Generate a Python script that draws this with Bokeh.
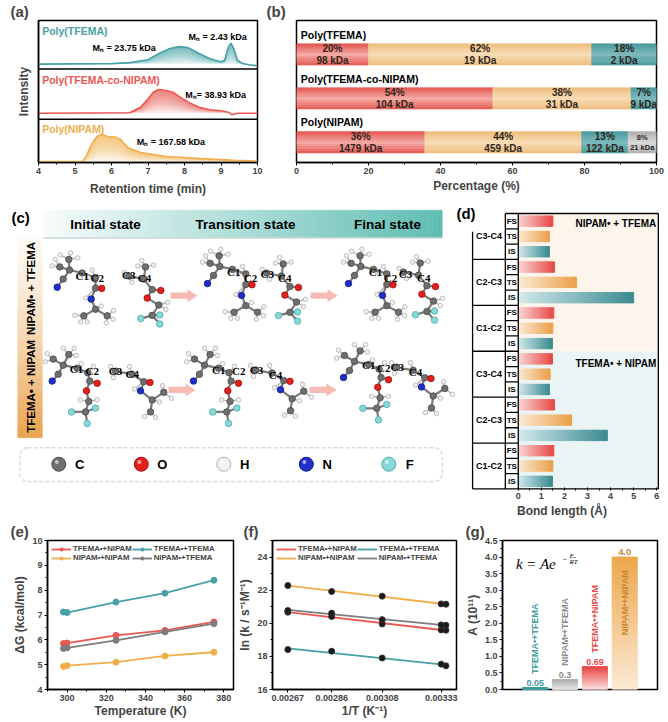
import numpy as np
from bokeh.plotting import figure
from bokeh.layouts import row, column
from bokeh.models import Range1d, Label, Span, FixedTicker, NumeralTickFormatter, Legend, LegendItem, BoxAnnotation
from bokeh.core.properties import value
from bokeh.embed import file_html
from bokeh.resources import INLINE

FONT = "Liberation Sans"
SERIF = "Liberation Serif"
TEAL = "#48a1a6"
RED = "#eb5751"
ORANGE = "#f0ae4c"
GRAY = "#7d7d7d"

# ---------------- (a) GPC traces: retention time (min) / relative intensity in each strip
rt_tfema = [4.0, 6.0, 6.5, 7.0, 7.3, 7.6, 7.85, 8.1, 8.4, 8.7, 9.0, 9.1, 9.2, 9.27, 9.35, 9.45, 9.6, 9.8, 10.0]
int_tfema = [0.10, 0.11, 0.13, 0.19, 0.32, 0.42, 0.46, 0.44, 0.32, 0.21, 0.15, 0.18, 0.45, 0.53, 0.42, 0.18, 0.11, 0.08, 0.06]
rt_co = [4.0, 6.5, 6.8, 7.0, 7.15, 7.3, 7.5, 7.7, 7.9, 8.1, 8.4, 8.7, 9.0, 9.2, 9.3, 9.45, 10.0]
int_co = [0.12, 0.13, 0.24, 0.40, 0.54, 0.59, 0.57, 0.53, 0.43, 0.34, 0.24, 0.19, 0.17, 0.14, 0.09, 0.12, 0.12]
rt_nipam = [4.0, 5.2, 5.3, 5.45, 5.6, 5.72, 5.9, 6.1, 6.25, 6.45, 6.8, 7.5, 8.45, 9.36, 10.0]
int_nipam = [0.02, 0.02, 0.13, 0.41, 0.60, 0.65, 0.60, 0.59, 0.53, 0.34, 0.23, 0.14, 0.09, 0.05, 0.03]
a_names = ["Poly(NIPAM)", "Poly(TFEMA-co-NIPAM)", "Poly(TFEMA)"]
a_mn = [["Mₙ = 167.58 kDa"], ["Mₙ= 38.93 kDa"], ["Mₙ = 23.75 kDa", "Mₙ = 2.43 kDa"]]
a_mn_x = [[6.69], [8.02], [5.48, 8.11]]
a_mn_y = [[0.47], [0.48], [0.43, 0.65]]
a_ticks = [4, 5, 6, 7, 8, 9, 10]

# ---------------- (b) fractions
b_rows = ["Poly(TFEMA)", "Poly(TFEMA-co-NIPAM)", "Poly(NIPAM)"]
b_pct = [[20, 62, 18], [54, 38, 7], [36, 44, 13, 8]]
b_mw = [["98 kDa", "19 kDa", "2 kDa"], ["104 kDa", "31 kDa", "9 kDa"], ["1479 kDa", "459 kDa", "122 kDa", "21 kDa"]]
b_ticks = [0, 20, 40, 60, 80, 100]

# ---------------- (c) scheme
c_states = ["Initial state", "Transition state", "Final state"]
c_systems = ["NIPAM• + TFEMA", "TFEMA• + NIPAM"]
c_elements = ["C", "O", "H", "N", "F"]
c_labels = ["C1", "C2", "C3", "C4"]

# ---------------- (d) bond lengths (Å), order C3-C4, C2-C3, C1-C2
d_bonds = ["C3-C4", "C2-C3", "C1-C2"]
d_states = ["FS", "TS", "IS"]
len_nt_fs = [1.50, 1.57, 1.54]
len_nt_ts = [1.35, 2.53, 1.50]
len_nt_is = [1.35, 5.00, 1.48]
len_tn_fs = [1.48, 1.57, 1.54]
len_tn_ts = [1.38, 2.31, 1.50]
len_tn_is = [1.35, 3.86, 1.48]
d_ticks = [0, 1, 2, 3, 4, 5, 6]

# ---------------- (e)/(f) kinetics
temp_K = [298.15, 300, 325, 350, 375]
dG_tn = [5.85, 5.87, 6.18, 6.38, 6.72]
dG_tt = [7.12, 7.10, 7.52, 7.88, 8.40]
dG_nn = [4.93, 4.96, 5.10, 5.35, 5.50]
dG_nt = [5.65, 5.68, 5.98, 6.32, 6.65]
lnk_tn = [19.58, 19.60, 19.96, 20.41, 20.67]
lnk_tt = [17.43, 17.53, 17.90, 18.31, 18.41]
lnk_nn = [21.15, 21.17, 21.64, 21.92, 22.28]
lnk_nt = [19.88, 19.90, 20.22, 20.61, 20.77]
e_xticks = [300, 320, 340, 360, 380]
e_yticks = [4, 5, 6, 7, 8, 9, 10]
f_yticks = [16, 18, 20, 22, 24]

# ---------------- (g) pre-exponential factor
g_pairs = ["TFEMA•+TFEMA", "NIPAM•+TFEMA", "TFEMA•+NIPAM", "NIPAM•+NIPAM"]
g_A = [0.05, 0.3, 0.69, 4.0]
g_labels = ["0.05", "0.3", "0.69", "4.0"]
g_yticks = [0, 0.5, 1.0, 1.5, 2.0, 2.5, 3.0, 3.5, 4.0, 4.5]


def mix(c1, c2, t):
    a = [int(c1[i:i + 2], 16) for i in (1, 3, 5)]
    b = [int(c2[i:i + 2], 16) for i in (1, 3, 5)]
    return "#%02x%02x%02x" % tuple(int(round(a[k] + (b[k] - a[k]) * t)) for k in range(3))


def base_fig(w, h, xr, yr, left, right, top, bottom, tag=None, tag_off=0):
    p = figure(width=w, height=h, x_range=xr, y_range=yr, output_backend="svg", toolbar_location=None,
               min_border_left=left, min_border_right=right, min_border_top=top, min_border_bottom=bottom)
    p.grid.visible = False
    p.outline_line_color = "black"
    p.outline_line_width = 1.5
    p.axis.axis_line_width = 1.5
    p.axis.major_label_text_font = FONT
    p.axis.major_label_text_font_style = "bold"
    p.axis.major_label_text_font_size = "9px"
    p.axis.axis_label_text_font = FONT
    p.axis.axis_label_text_font_style = "bold"
    p.axis.axis_label_text_font_size = "12px"
    p.axis.major_tick_in = 0
    p.axis.major_tick_out = 3
    p.axis.minor_tick_in = 0
    p.axis.minor_tick_out = 2
    p.axis.major_label_standoff = 2
    p.axis.axis_label_standoff = 2
    if tag:
        p.title.text = tag
        p.title.align = "left"
        p.title.offset = tag_off
        p.title.standoff = 1
        p.title.text_font = FONT
        p.title.text_font_style = "bold"
        p.title.text_font_size = "15px"
    return p


def txt(p, x, y, s, size="9px", color="black", align="left", style="bold", font=FONT, angle=0, base="middle"):
    p.add_layout(Label(x=x, y=y, text=s, text_font=font, text_font_style=style, text_font_size=size,
                       text_color=color, text_align=align, text_baseline=base, angle=angle))


# ======================= (a)
pa = base_fig(265, 200, Range1d(4, 10), Range1d(0, 3), 38, 8, 19, 38, "(a)", -28)
pa.xaxis.ticker = FixedTicker(ticks=a_ticks, minor_ticks=list(np.arange(4, 10.01, 0.5)))
pa.xaxis.axis_label = "Retention time (min)"
pa.xaxis.axis_label_standoff = 5
pa.yaxis.ticker = FixedTicker(ticks=[])
pa.yaxis.axis_label = "Intensity"
pa.yaxis.axis_label_standoff = 8
strip_h = [0.914, 1.063, 1.023]
strip_off = [0, 0.914, 1.977]
strips = [(rt_nipam, int_nipam, ORANGE), (rt_co, int_co, RED), (rt_tfema, int_tfema, TEAL)]
for k, (x, inten, col) in enumerate(strips):
    y = strip_off[k] + np.array(inten) * strip_h[k]
    base = y[0]
    for j in range(8):
        pa.varea(x=x, y1=base + (y - base) * j / 8, y2=y, fill_color=col, fill_alpha=0.13)
    pa.line(x, y, line_color=col, line_width=1.6)
    txt(pa, 4.1, strip_off[k] + 0.78 * strip_h[k], a_names[k], size="10.5px", color=col)
    for s, mx, my in zip(a_mn[k], a_mn_x[k], a_mn_y[k]):
        txt(pa, mx, strip_off[k] + my * strip_h[k], s, size="9px")
for off in strip_off[1:]:
    pa.add_layout(Span(location=off, dimension="width", line_color="black", line_width=1.5))

# ======================= (b)
pb = base_fig(403, 200, Range1d(0, 100), Range1d(0, 3.23), 31, 12, 19, 33, "(b)", -30)
pb.yaxis.visible = False
pb.xaxis.ticker = FixedTicker(ticks=b_ticks, minor_ticks=[10, 30, 50, 70, 90])
pb.xaxis.axis_label = "Percentage (%)"
seg_edge = ["#e55650", "#efbd7d", "#4b999d", "#b0b0b0"]
seg_mid = ["#f4aaa4", "#f8dcb6", "#7ab9bb", "#d8d8d8"]
bar_h = 0.486
ql, qr, qb, qt, qc = [], [], [], [], []
tx, ty, tt, tsz = [], [], [], []
for r, (pcts, mws) in enumerate(zip(b_pct, b_mw)):
    yc = 2.46 - r
    cum = np.concatenate([[0], np.cumsum(pcts)]) / sum(pcts) * 100
    for s in range(len(pcts)):
        n = 9
        for k in range(n):
            t = 1 - abs((k + 0.5) / n * 2 - 1)
            ql.append(cum[s]); qr.append(cum[s + 1])
            qb.append(yc - bar_h / 2 + k * bar_h / n); qt.append(yc - bar_h / 2 + (k + 1) * bar_h / n)
            qc.append(mix(seg_edge[s], seg_mid[s], t))
        tx.append((cum[s] + cum[s + 1]) / 2); ty.append(yc)
        tt.append(f"{pcts[s]}%\n{mws[s]}"); tsz.append("7.5px" if s == 3 else "10px")
    txt(pb, 1.2, yc + 0.45, b_rows[r], size="10.5px")
pb.quad(left=ql, right=qr, bottom=qb, top=qt, fill_color=qc, line_color=qc, line_width=0.6)
for x, y, s, sz in zip(tx, ty, tt, tsz):
    pb.text(x=[x], y=[y], text=[s], text_font=value(FONT), text_font_style="bold", text_font_size=sz,
            text_color="#2e2620", text_align="center", text_baseline="middle", text_line_height=1.1)

# ======================= (c) scheme, drawn in page pixel coordinates
pc = figure(width=455, height=320, x_range=Range1d(0, 455), y_range=Range1d(520, 200), output_backend="svg",
            toolbar_location=None, x_axis_location=None, y_axis_location=None, min_border=0)
pc.grid.visible = False
pc.outline_line_color = None
n = 80
hx = np.linspace(42.7, 441.7, n + 1)
pc.quad(left=hx[:-1], right=hx[1:], top=210.7, bottom=240.7,
        fill_color=[mix("#f7fcfb", "#5fbdb2", i / (n - 1)) for i in range(n)],
        line_color=[mix("#f7fcfb", "#5fbdb2", i / (n - 1)) for i in range(n)], line_width=0.6)
pc.line([43, 441.7], [241.5, 241.5], line_color="#c9d9d7", line_width=1.5)
vy = np.linspace(241.7, 461.7, n + 1)
vcol = [mix("#fefaf5", "#eba24e", (i / (n - 1)) ** 1.3) for i in range(n)]
pc.quad(left=17.3, right=41.7, top=vy[:-1], bottom=vy[1:], fill_color=vcol, line_color=vcol, line_width=0.6)
for s, x in zip(c_states, [105, 245, 387]):
    txt(pc, x, 226, s, size="13.5px", align="center")
for s, y in zip(c_systems, [297, 405]):
    txt(pc, 30, y, s, size="11.5px", align="center", angle=np.pi / 2)
txt(pc, 11, 219, "(c)", size="15px")

ELEM_COL = {"C": "#6f6f6f", "O": "#e3201b", "N": "#1f2fc9", "F": "#86d9d9", "H": "#f2f2f2"}
ELEM_EDGE = {"C": "#4a4a4a", "O": "#a01010", "N": "#101a80", "F": "#4fa8a8", "H": "#b0b0b0"}

NIP_RAD = ([(-12.7, -3.3, "C"), (-13.4, -15, "C"), (-22.4, -6.7, "C"), (-19, 6.7, "C"), (-25, 15.7, "N"),
            (0, 0, "C"), (13.3, 5, "C"), (13.3, 16.7, "C"), (19.5, 17, "O"), (9, 28.7, "N"),
            (13.3, 40, "C"), (1.6, 47.3, "C"), (25, 47.3, "C")],
           [(0, 1), (0, 2), (0, 3), (3, 4), (0, 5), (5, 6), (6, 7), (7, 8), (7, 9), (9, 10), (10, 11), (10, 12)],
           [(-22, -20), (-11.7, -22.3), (-4.4, -16.7), (-30, -8), (-27, -15), (5.6, 5), (10, -3.3),
            (3.6, 27.7), (19, 36.5), (-7.4, 46.7), (-1.7, 54), (5, 54), (31.4, 41.3), (31, 51), (24, 55)])
TFE_MON = ([(0, 0, "C"), (15, 3.4, "C"), (16.7, -10, "C"), (23.4, 15, "C"), (32, 16, "O"), (18.4, 24.4, "O"),
            (30, 32, "C"), (23.4, 43.4, "C"), (12, 47, "F"), (31, 53, "F"), (31, 43, "F")],
           [(0, 1), (1, 2), (1, 3), (3, 4), (3, 5), (5, 6), (6, 7), (7, 8), (7, 9), (7, 10)],
           [(-4.4, -4), (3, 7), (13, -17), (24.7, -12), (9, -11), (39, 29), (37, 37)])
TFE_RAD = ([(-14, -3.3, "C"), (-8.4, -15, "C"), (-24, -10, "C"), (-19, 6.7, "C"), (-25, 14.3, "N"),
            (0, 0, "C"), (10.6, 5, "C"), (12.6, 14.3, "C"), (20, 16.7, "O"), (9.3, 25, "O"),
            (11.6, 36.7, "C"), (8.3, 48.3, "C"), (-5.7, 48.3, "F"), (10, 61, "F"), (18.3, 44, "F")],
           [(0, 1), (0, 2), (0, 3), (3, 4), (0, 5), (5, 6), (6, 7), (7, 8), (7, 9), (9, 10), (10, 11),
            (11, 12), (11, 13), (11, 14)],
           [(-14, -22), (-3, -22), (-1, -14), (-32, -7), (-30, -16), (4, -5), (16, -2), (20, 35), (3, 35)])
NIP_MON = ([(0, 0, "C"), (16.7, 3.4, "C"), (28.3, 11.7, "C"), (34.5, 12.5, "O"), (25, 21.7, "N"),
            (36.7, 31.7, "C"), (48.3, 23.4, "C"), (35, 45, "C")],
           [(0, 1), (1, 2), (2, 3), (2, 4), (4, 5), (5, 6), (5, 7)],
           [(-5, -5), (-2, 7), (14, -5), (19, 19.7), (44, 34), (47, 16), (56, 30), (29, 50), (40, 51)])

mol_place = [(NIP_RAD, 81.7, 280), (TFE_MON, 128.3, 283.3), (NIP_RAD, 232, 276), (TFE_MON, 266, 280),
             (NIP_RAD, 373, 276), (TFE_MON, 403, 279), (TFE_RAD, 76.7, 385), (NIP_MON, 115, 388.3),
             (TFE_RAD, 218, 385), (NIP_MON, 255, 387), (TFE_RAD, 368, 381), (NIP_MON, 396, 384)]
for (heavy, bonds, hyd), ox, oy in mol_place:
    ax = [ox + a[0] for a in heavy]
    ay = [oy + a[1] for a in heavy]
    hxs, hys, bx, by = [], [], [], []
    for h in hyd:
        x, y = ox + h[0], oy + h[1]
        d = [(x - ax[i]) ** 2 + (y - ay[i]) ** 2 if heavy[i][2] == "C" else 1e9 for i in range(len(heavy))]
        i = int(np.argmin(d))
        hxs.append(x); hys.append(y); bx.append([x, ax[i]]); by.append([y, ay[i]])
    pc.multi_line(bx, by, line_color="#b4b4b4", line_width=1.4)
    pc.multi_line([[ax[i], ax[j]] for i, j in bonds], [[ay[i], ay[j]] for i, j in bonds],
                  line_color="#7a7a7a", line_width=2.2)
    pc.scatter(hxs, hys, size=4.5, fill_color=ELEM_COL["H"], line_color=ELEM_EDGE["H"], line_width=0.8)
    pc.scatter(ax, ay, size=6.5, fill_color=[ELEM_COL[a[2]] for a in heavy],
               line_color=[ELEM_EDGE[a[2]] for a in heavy], line_width=0.8)

clab_x = [81.7, 96.7, 128.3, 144, 233.3, 250, 266.7, 284.3, 375, 390, 405, 423.3,
          76, 91.7, 115, 131.7, 218.3, 238.3, 256, 275, 368.3, 383.3, 396.7, 415]
clab_y = [283.3, 285, 281.7, 286, 279.3, 285, 280.7, 286, 279.3, 285, 281, 286,
          386, 388.3, 388.3, 391.7, 386.7, 388.3, 386.7, 392.7, 381.7, 385, 384, 389.3]
pc.text(x=clab_x, y=clab_y, text=c_labels * 6, text_font=value(SERIF), text_font_style="bold",
        text_font_size="11px", text_color="black", text_align="center", text_baseline="middle")

arrow_shape = [(0, -3.5), (17, -3.5), (17, -7), (27, 0), (17, 7), (17, 3.5), (0, 3.5)]
arrow_at = [(170, 305), (310, 305), (168, 409), (309, 409)]
pc.patches([[x0 + a for a, b in arrow_shape] for x0, y0 in arrow_at],
           [[y0 + b for a, b in arrow_shape] for x0, y0 in arrow_at], fill_color="#f6bcb3", line_color=None)

pc.add_layout(BoxAnnotation(left=19.3, right=441.7, top=472.7, bottom=510, fill_alpha=0, line_color="#8a8a8a",
                            line_dash="4 2", line_width=1.5, border_radius=8))
lx = [58.3 + 82.5 * i for i in range(len(c_elements))]
pc.scatter(lx, [491] * 5, size=14, fill_color=[ELEM_COL[e] for e in c_elements],
           line_color=[ELEM_EDGE[e] for e in c_elements], line_width=1)
pc.scatter([x - 2 for x in lx], [488.5] * 5, size=4, fill_color="white", fill_alpha=0.6, line_color=None)
pc.text(x=[x + 21 for x in lx], y=[491] * 5, text=c_elements, text_font=value(FONT), text_font_style="bold",
        text_font_size="13px", text_align="center", text_baseline="middle")

# ======================= (d)  frame covers the whole panel, borders drawn by hand
pd_ = base_fig(213, 320, Range1d(-2.72, 6.51), Range1d(-0.1, 18.85), 0, 0, 0, 30)
pd_.outline_line_color = None
pd_.yaxis.visible = False
pd_.xaxis.axis_line_color = None
pd_.xaxis.major_tick_in = 3
pd_.xaxis.major_tick_out = 0
pd_.xaxis.minor_tick_in = 2
pd_.xaxis.minor_tick_out = 0
pd_.xaxis.ticker = FixedTicker(ticks=d_ticks, minor_ticks=[0.5, 1.5, 2.5, 3.5, 4.5, 5.5])
pd_.xaxis.axis_label = "Bond length (Å)"
pd_.quad(left=0, right=6.07, bottom=[9, 0], top=[18, 9], fill_color=["#fdf5ec", "#eaf4f5"], line_color=None)
grad = [("#fad5d4", "#e84c49"), ("#fbead4", "#eba24b"), ("#d2e8ea", "#3d8d93")]
d_sets = [[len_nt_fs, len_nt_ts, len_nt_is], [len_tn_fs, len_tn_ts, len_tn_is]]
ql, qr, qb, qt, qc = [], [], [], [], []
for h in range(2):
    for g in range(3):
        for s in range(3):
            r = h * 9 + g * 3 + s
            yc = 17.5 - r
            v = d_sets[h][s][g]
            n = 24
            for k in range(n):
                ql.append(v * k / n); qr.append(v * (k + 1) / n)
                qb.append(yc - 0.34); qt.append(yc + 0.34)
                qc.append(mix(grad[s][0], grad[s][1], k / (n - 1)))
pd_.quad(left=ql, right=qr, bottom=qb, top=qt, fill_color=qc, line_color=qc)
lines_x = [[-1.98, -1.98], [-0.56, -0.56], [0, 0], [6.07, 6.07], [-0.56, 6.07], [-1.98, 6.07]]
lines_y = [[0, 16.8], [0, 18], [0, 18], [0, 18], [18, 18], [0, 0]]
for y in [3, 6, 9, 12, 15]:
    lines_x.append([-1.98, -0.56]); lines_y.append([y, y])
for y in range(1, 18):
    lines_x.append([-0.56, 0]); lines_y.append([y, y])
pd_.multi_line(lines_x, lines_y, line_color="black", line_width=1.3)
pd_.text(x=[-1.27] * 6, y=[16.5 - 3 * g for g in range(6)], text=d_bonds * 2, text_font=value(FONT),
         text_font_style="bold", text_font_size="9px", text_align="center", text_baseline="middle")
pd_.text(x=[-0.28] * 18, y=[17.5 - r for r in range(18)], text=d_states * 6, text_font=value(FONT),
         text_font_style="bold", text_font_size="8px", text_align="center", text_baseline="middle")
txt(pd_, 5.98, 17.33, c_systems[0], size="10px", align="right")
txt(pd_, 5.98, 8.18, c_systems[1], size="10px", align="right")
txt(pd_, -2.68, 18.53, "(d)", size="15px", base="top")

# ======================= (e)
series = [("TFEMA•+NIPAM", dG_tn, lnk_tn, RED), ("NIPAM•+NIPAM", dG_nn, lnk_nn, ORANGE),
          ("TFEMA•+TFEMA", dG_tt, lnk_tt, TEAL), ("NIPAM•+TFEMA", dG_nt, lnk_nt, GRAY)]


def make_legend(items):
    return Legend(items=items, ncols=2, location="top_left", label_text_font=FONT, label_text_font_style="bold",
                  label_text_font_size="7.8px", glyph_width=20, glyph_height=8, label_standoff=2, spacing=0,
                  padding=0, margin=4, label_height=8, background_fill_alpha=0, border_line_alpha=0)


pe = base_fig(235, 202, Range1d(290, 385), Range1d(4, 10), 47, 2, 20, 33, "(e)", -37)
pe.xaxis.ticker = FixedTicker(ticks=e_xticks, minor_ticks=[290, 310, 330, 350, 370])
pe.yaxis.ticker = FixedTicker(ticks=e_yticks, minor_ticks=list(np.arange(4.5, 10, 1.0)))
pe.xaxis.axis_label = "Temperature (K)"
pe.yaxis.axis_label = "ΔG (kcal/mol)"
pe.xaxis.axis_label_standoff = 0
items = []
for name, dg, lk, col in series:
    l1 = pe.line(temp_K, dg, line_color=col, line_width=1.8)
    s1 = pe.scatter(temp_K, dg, size=6, fill_color=col, line_color=col)
    items.append(LegendItem(label=name, renderers=[l1, s1]))
pe.add_layout(make_legend(items))

# ======================= (f)
inv_T = 1 / np.array(temp_K)
pf = base_fig(225, 202, Range1d(0.0026, 0.0034), Range1d(16, 25), 36, 4, 20, 33, "(f)", -29)
pf.xaxis.ticker = FixedTicker(ticks=list(inv_T[1:]))
pf.xaxis.formatter = NumeralTickFormatter(format="0.00000")
pf.yaxis.ticker = FixedTicker(ticks=f_yticks, minor_ticks=[17, 19, 21, 23, 25])
pf.xaxis.axis_label = "1/T (K⁻¹)"
pf.yaxis.axis_label = "ln (k / s⁻¹M⁻¹)"
pf.xaxis.axis_label_standoff = 0
items = []
for name, dg, lk, col in series:
    coef = np.polyfit(inv_T, lk, 1)
    xs = np.array([inv_T.min(), inv_T.max()])
    l1 = pf.line(xs, np.polyval(coef, xs), line_color=col, line_width=1.8)
    items.append(LegendItem(label=name, renderers=[l1]))
for name, dg, lk, col in series:
    pf.scatter(inv_T, lk, size=6, fill_color="#1a1a1a", line_color="#333333")
pf.add_layout(make_legend(items))

# ======================= (g)
pg = base_fig(208, 202, Range1d(-0.1, 5.1), Range1d(0, 4.5), 42, 11, 20, 20, "(g)", -37)
pg.xaxis.visible = False
pg.yaxis.ticker = FixedTicker(ticks=g_yticks, minor_ticks=list(np.arange(0.25, 4.5, 0.5)))
pg.yaxis.formatter = NumeralTickFormatter(format="0.0")
pg.yaxis.axis_label = "A (10¹¹)"
g_top = ["#3f9ca0", "#b3b3b3", "#e94b47", "#eda84f"]
g_bot = ["#3f9ca0", "#e9e9e9", "#fbe0df", "#fbe9d2"]
g_txt = ["#3f9ca0", "#8a8a8a", "#e94b47", "#c9862e"]
ql, qr, qb, qt, qc = [], [], [], [], []
for i, v in enumerate(g_A):
    xc = i + 1
    n = 30
    for k in range(n):
        ql.append(xc - 0.42); qr.append(xc + 0.42)
        qb.append(v * k / n); qt.append(v * (k + 1) / n)
        qc.append(mix(g_bot[i], g_top[i], k / (n - 1)))
pg.quad(left=ql, right=qr, bottom=qb, top=qt, fill_color=qc, line_color=qc)
for i, v in enumerate(g_A):
    xc = i + 1
    txt(pg, xc, v + 0.06, g_labels[i], size="9px", color=g_txt[i], align="center", base="bottom")
    ys = v + 0.42 if v < 2 else v * 0.41
    txt(pg, xc, ys, g_pairs[i], size="9px", color=g_txt[i], align="left", angle=np.pi / 2)
txt(pg, 0.35, 3.8, "k = Ae", size="15px", style="italic", font=SERIF)
txt(pg, 1.9, 3.95, "−", size="8px", style="italic", font=SERIF)
txt(pg, 2.15, 4.02, "Eₐ", size="7px", style="italic", font=SERIF)
txt(pg, 2.15, 3.86, "RT", size="7px", style="italic", font=SERIF)

layout = column(row(pa, pb), row(pc, pd_), row(pe, pf, pg))
open("out.html", "w").write(file_html(layout, INLINE))
